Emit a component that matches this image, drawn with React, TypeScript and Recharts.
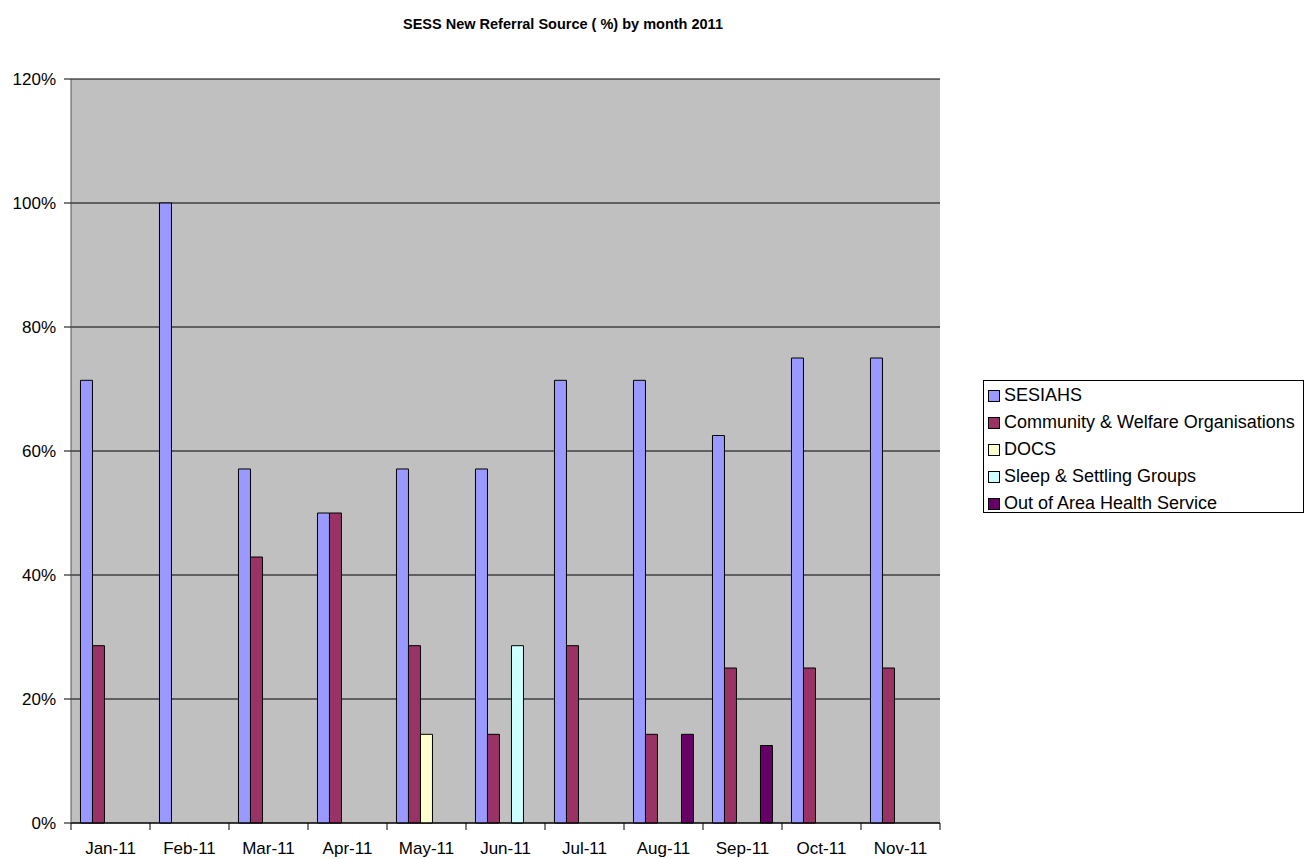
import { BarChart, Bar, XAxis, YAxis, CartesianGrid } from "recharts";

const months = ["Jan-11", "Feb-11", "Mar-11", "Apr-11", "May-11", "Jun-11", "Jul-11", "Aug-11", "Sep-11", "Oct-11", "Nov-11"];
const sesiahs = [71.4, 100, 57.1, 50, 57.1, 57.1, 71.4, 71.4, 62.5, 75, 75];
const community = [28.6, null, 42.9, 50, 28.6, 14.3, 28.6, 14.3, 25, 25, 25];
const docs = [null, null, null, null, 14.3, null, null, null, null, null, null];
const sleep = [null, null, null, null, null, 28.6, null, null, null, null, null];
const outOfArea = [null, null, null, null, null, null, null, 14.3, 12.5, null, null];
const yTicks = [0, 20, 40, 60, 80, 100, 120];

const series = [
  { key: "SESIAHS", name: "SESIAHS", color: "#9999FF" },
  { key: "Community", name: "Community & Welfare Organisations", color: "#993366" },
  { key: "DOCS", name: "DOCS", color: "#FFFFCC" },
  { key: "Sleep", name: "Sleep & Settling Groups", color: "#CCFFFF" },
  { key: "OutOfArea", name: "Out of Area Health Service", color: "#660066" },
];

const data = months.map((month, i) => ({
  month,
  SESIAHS: sesiahs[i],
  Community: community[i],
  DOCS: docs[i],
  Sleep: sleep[i],
  OutOfArea: outOfArea[i],
}));

const font = "'Liberation Sans', Arial, sans-serif";
const X_TICK = 7;
const X_MARGIN = 12;

// month label plus tick marks on the category boundaries (Excel style)
function MonthTick(props: any) {
  const { x, y, payload, index } = props;
  const half = payload.offset ?? 0;
  const axisY = y - X_TICK - X_MARGIN;
  const last = index === months.length - 1;
  return (
    <g>
      <line x1={x - half} x2={x - half} y1={axisY} y2={axisY + X_TICK} stroke="#000" />
      {last && <line x1={x + half} x2={x + half} y1={axisY} y2={axisY + X_TICK} stroke="#000" />}
      <text x={x} y={y} dy="0.71em" textAnchor="middle" fill="#000" fontSize={17} fontFamily={font}>
        {payload.value}
      </text>
    </g>
  );
}

function LegendBox() {
  return (
    <div style={{ position: "absolute", left: 983, top: 380, width: 321, height: 133, border: "1px solid #000", background: "#fff", padding: "1px 0 0 4px", boxSizing: "border-box" }}>
      {series.map((s) => (
        <div key={s.key} style={{ display: "flex", alignItems: "center", height: 27, fontFamily: font, fontSize: 18, color: "#000", whiteSpace: "nowrap" }}>
          <span style={{ display: "inline-block", width: 12, height: 12, background: s.color, border: "1px solid #000", marginRight: 4, boxSizing: "border-box" }} />
          {s.name}
        </div>
      ))}
    </div>
  );
}

export default function App() {
  return (
    <div style={{ position: "absolute", left: 0, top: 0, width: 1308, height: 859, background: "#fff" }}>
      <div style={{ position: "absolute", left: 0, width: 1126, top: 16, textAlign: "center", fontFamily: font, fontWeight: "bold", fontSize: 14.5, color: "#000" }}>
        SESS New Referral Source ( %) by month 2011
      </div>
      <BarChart
        width={1308}
        height={859}
        data={data}
        margin={{ top: 79, right: 368, bottom: 6, left: 11 }}
        barCategoryGap="12%"
        barGap={0}
      >
        <CartesianGrid vertical={false} stroke="#000" fill="#C0C0C0" fillOpacity={1} yAxisId="left" xAxisId="cat" />
        <XAxis xAxisId="cat" dataKey="month" height={30} axisLine={{ stroke: "#000" }} tickLine={false}
          tickSize={X_TICK} tickMargin={X_MARGIN} tick={<MonthTick />} interval={0} />
        <YAxis yAxisId="left" domain={[0, 120]} ticks={yTicks} width={60} tickSize={7} tickMargin={8}
          tickFormatter={(v) => `${v}%`} axisLine={{ stroke: "#555" }} tickLine={{ stroke: "#000" }}
          tick={{ fill: "#000", fontSize: 17, fontFamily: font }} />
        <YAxis yAxisId="right" orientation="right" domain={[0, 120]} width={0} tick={false} tickLine={false}
          axisLine={{ stroke: "#808080" }} />
        {series.map((s) => (
          <Bar key={s.key} dataKey={s.key} name={s.name} fill={s.color} stroke="#000" strokeWidth={1}
            xAxisId="cat" yAxisId="left" isAnimationActive={false} />
        ))}
      </BarChart>
      <LegendBox />
    </div>
  );
}
